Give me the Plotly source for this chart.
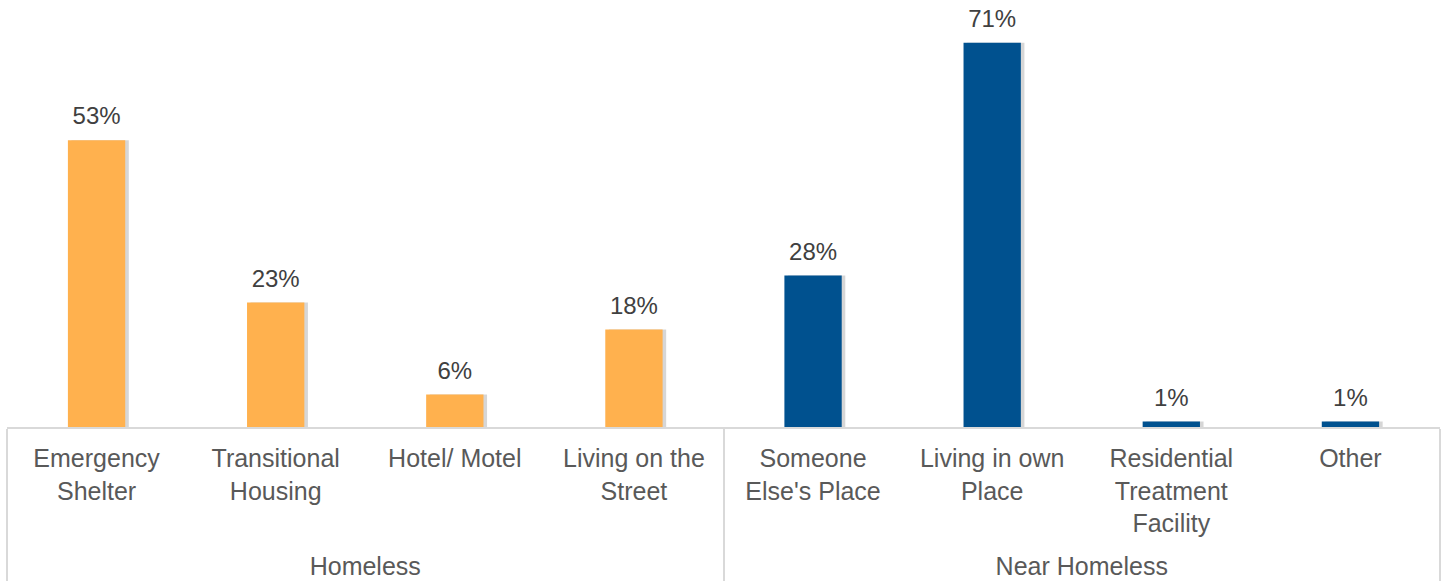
import plotly.graph_objects as go

groups = ["Homeless"] * 4 + ["Near Homeless"] * 4
categories = [
    "Emergency<br>Shelter",
    "Transitional<br>Housing",
    "Hotel/ Motel",
    "Living on the<br>Street",
    "Someone<br>Else's Place",
    "Living in own<br>Place",
    # small trailing line keeps the group label clear of the wrapped text
    "Residential<br>Treatment<br>Facility<br><sup>\u00a0</sup>",
    "Other",
]
values = [53, 23, 6, 18, 28, 71, 1, 1]
labels = [f"{v}%" for v in values]
bar_colors = ["#FFB14E"] * 4 + ["#00518F"] * 4

fig = go.Figure()

# soft drop shadow behind the bars
fig.add_trace(go.Bar(
    x=[groups, categories], y=values,
    width=0.32, offset=-0.14,
    marker=dict(color="rgba(0,0,0,0.16)", line=dict(width=0)),
    hoverinfo="skip", showlegend=False,
))

fig.add_trace(go.Bar(
    x=[groups, categories], y=values,
    width=0.32, offset=-0.16,
    marker=dict(color=bar_colors, line=dict(width=0)),
    showlegend=False,
))

# value labels (invisible marker sets the gap above the bar)
fig.add_trace(go.Scatter(
    x=[groups, categories], y=values,
    mode="markers+text",
    marker=dict(size=14, opacity=0),
    text=labels, textposition="top center",
    textfont=dict(size=24, color="#404040"),
    cliponaxis=False, hoverinfo="skip", showlegend=False,
))

fig.update_xaxes(
    showline=True, linecolor="#D9D9D9", linewidth=2,
    showdividers=True, dividercolor="#D9D9D9", dividerwidth=2,
    tickfont=dict(size=25, color="#595959"),
    ticks="", ticklabelstandoff=8, showgrid=False, automargin=False,
)
fig.update_yaxes(visible=False, range=[0, 78.9], showgrid=False)

fig.update_layout(
    width=1447, height=583,
    barmode="overlay",
    plot_bgcolor="white", paper_bgcolor="white",
    font=dict(family="Liberation Sans, Arial, sans-serif", color="#595959"),
    margin=dict(l=7, r=7, t=0, b=156),
)

fig.write_html(
    "out.html",
    config={"displayModeBar": False},
    post_script="document.body.style.margin='0';",
)
